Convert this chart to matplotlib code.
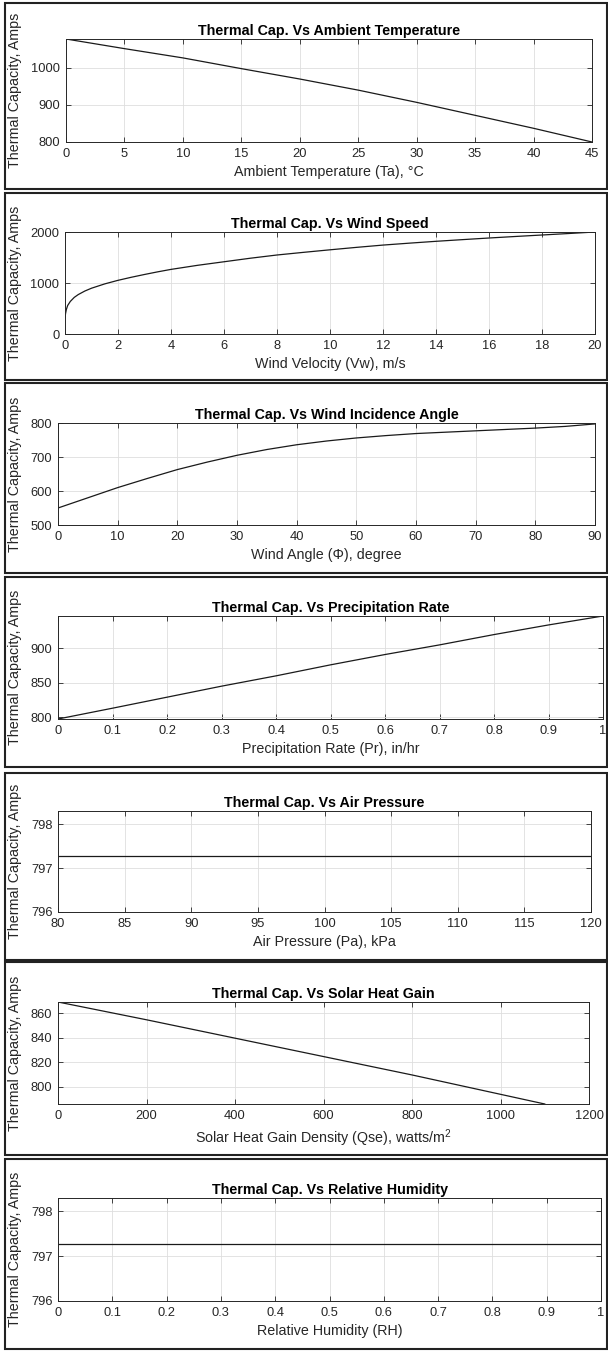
import numpy as np
import matplotlib.pyplot as plt
from matplotlib.patches import Rectangle
from matplotlib.ticker import FuncFormatter

plt.rcParams['font.family'] = ['Liberation Sans', 'DejaVu Sans']
plt.rcParams['mathtext.fontset'] = 'custom'
plt.rcParams['mathtext.rm'] = 'Liberation Sans'

# ambient temperature
ta = [0, 5, 10, 15, 20, 25, 30, 35, 40, 45]
cap_ta = [1078, 1052, 1027, 998, 970, 940, 907, 872, 837, 800]

# wind speed
vw = [0, 0.02, 0.05, 0.1, 0.2, 0.35, 0.5, 0.75, 1, 1.5, 2, 2.5, 3, 3.5, 4,
      5, 6, 7, 8, 9, 10, 11, 12, 13, 14, 15, 16, 17, 18, 19, 20]
cap_vw = [313, 400, 480, 560, 640, 720, 775, 845, 900, 985, 1055, 1115, 1170,
          1222, 1270, 1350, 1420, 1490, 1553, 1605, 1655, 1703, 1748, 1786,
          1822, 1855, 1887, 1917, 1946, 1975, 2005]

# wind angle
phi = [0, 5, 10, 15, 20, 25, 30, 35, 40, 45, 50, 55, 60, 65, 70, 75, 80, 85, 90]
cap_phi = [550, 580, 610, 637, 663, 685, 705, 722, 736, 747, 756, 763, 769,
           773, 777, 781, 785, 790, 797.3]

# precipitation rate
pr = [0, 0.1, 0.2, 0.3, 0.4, 0.5, 0.6, 0.7, 0.8, 0.9, 1.0]
cap_pr = [797.3, 813, 829, 845, 860, 876, 891, 905, 920, 934, 947]

# air pressure
pa = [80, 120]
cap_pa = [797.28, 797.28]

# solar heat gain
qse = [0, 200, 400, 600, 800, 1000, 1100]
cap_qse = [869, 854.5, 839.5, 824.5, 809.5, 793.7, 785.8]

# relative humidity
rh = [0, 1]
cap_rh = [797.28, 797.28]

W, H = 608, 1351
fig = plt.figure(figsize=(W / 100, H / 100), dpi=100)

gray = '#262626'

def fmt(v, pos):
    return '%g' % round(v, 6)

def panel(px, box, x, y, title, xlabel, xlim, xticks, ylim, yticks):
    L, R, T, B = px
    ax = fig.add_axes([L / W, 1 - B / H, (R - L) / W, (B - T) / H])
    ax.plot(x, y, color='#1a1a1a', lw=0.9)
    ax.set_xlim(xlim)
    ax.set_ylim(ylim)
    ax.set_xticks(xticks)
    ax.set_yticks(yticks)
    ax.xaxis.set_major_formatter(FuncFormatter(fmt))
    ax.yaxis.set_major_formatter(FuncFormatter(fmt))
    ax.grid(True, color='#dedede', lw=0.6)
    ax.set_axisbelow(True)
    ax.tick_params(direction='in', top=True, right=True, length=3.5, width=0.6,
                   color=gray, labelcolor=gray, labelsize=9.3, pad=4)
    for s in ax.spines.values():
        s.set_color(gray)
        s.set_linewidth(0.7)
    ax.set_title(title, fontsize=10.3, fontweight='bold', pad=3)
    ax.set_xlabel(xlabel, fontsize=10.3, color=gray, labelpad=4)
    ax.set_ylabel('Thermal Capacity, Amps', fontsize=10.3, color=gray)
    ax.yaxis.set_label_coords((22 - L) / (R - L), 0.5)
    t, b = box
    fig.add_artist(Rectangle((5 / W, 1 - b / H), 602 / W, (b - t) / H,
                             transform=fig.transFigure, fill=False,
                             ec='#222222', lw=1.5))
    return ax

panel((66, 592, 39, 142), (3, 189), ta, cap_ta,
      'Thermal Cap. Vs Ambient Temperature', 'Ambient Temperature (Ta), °C',
      (0, 45), np.arange(0, 46, 5), (800, max(cap_ta)), [800, 900, 1000])

panel((65, 595, 232, 334), (193, 380), vw, cap_vw,
      'Thermal Cap. Vs Wind Speed', 'Wind Velocity (Vw), m/s',
      (0, 20), np.arange(0, 21, 2), (0, max(cap_vw)), [0, 1000, 2000])

panel((58, 595, 423, 525), (383, 573), phi, cap_phi,
      'Thermal Cap. Vs Wind Incidence Angle', 'Wind Angle (Φ), degree',
      (0, 90), np.arange(0, 91, 10), (500, 800), [500, 600, 700, 800])

panel((58, 603, 616, 719), (577, 767), pr, cap_pr,
      'Thermal Cap. Vs Precipitation Rate', 'Precipitation Rate (Pr), in/hr',
      (0, 1), np.linspace(0, 1, 11), (min(cap_pr), max(cap_pr)), [800, 850, 900])

panel((58, 591, 811, 912), (773, 960), pa, cap_pa,
      'Thermal Cap. Vs Air Pressure', 'Air Pressure (Pa), kPa',
      (80, 120), np.arange(80, 121, 5), (796, 798.3), [796, 797, 798])

panel((58, 589, 1002, 1104), (962, 1155), qse, cap_qse,
      'Thermal Cap. Vs Solar Heat Gain', 'Solar Heat Gain Density (Qse), watts/m$^2$',
      (0, 1200), np.arange(0, 1201, 200), (min(cap_qse), max(cap_qse)),
      [800, 820, 840, 860])

panel((58, 601, 1198, 1301), (1159, 1349), rh, cap_rh,
      'Thermal Cap. Vs Relative Humidity', 'Relative Humidity (RH)',
      (0, 1), np.linspace(0, 1, 11), (796, 798.3), [796, 797, 798])

fig.savefig('out.png', dpi=100)
